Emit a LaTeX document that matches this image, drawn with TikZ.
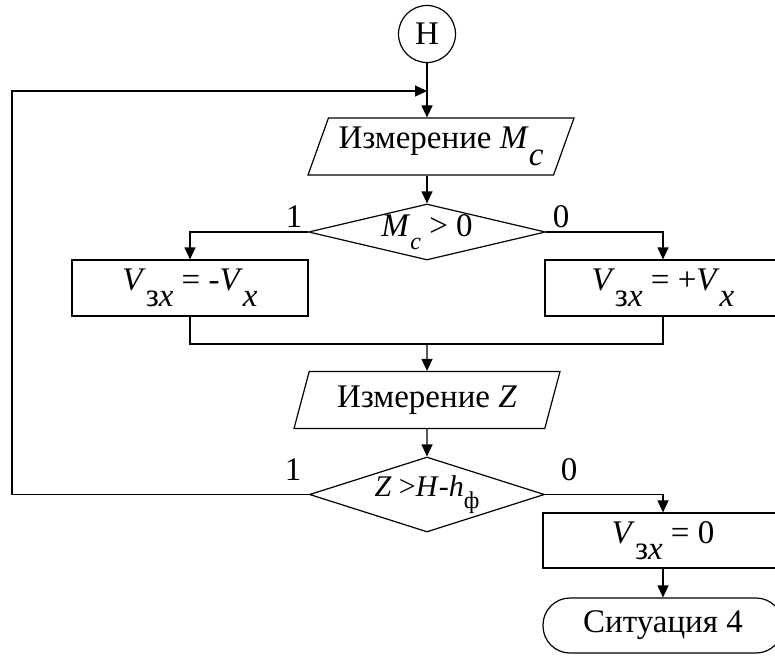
\documentclass[tikz,border=0pt]{standalone}
\usepackage{fontspec}
\setmainfont{Liberation Serif}
\usetikzlibrary{shapes.geometric,arrows.meta}

% lowered index: full size in the boxes, smaller in the conditions
\newcommand{\lowsub}[1]{\raisebox{-0.5em}{#1}}
\newcommand{\condsub}[1]{\raisebox{-0.4em}{\fontsize{24pt}{28pt}\selectfont #1}}

\begin{document}
\begin{tikzpicture}[x=1pt, y=-1pt, line width=1.2pt,
    every node/.style={font=\fontsize{33pt}{38pt}\selectfont},
    flow/.style={-{Triangle[length=12pt,width=11pt]}},
    startbox/.style={circle, draw, minimum size=57pt, inner sep=0pt},
    iobox/.style={trapezium, draw, trapezium left angle=62, trapezium right angle=118,
      trapezium stretches body, minimum width=266pt, minimum height=57pt, inner sep=0pt},
    actbox/.style={rectangle, draw, minimum width=236pt, minimum height=56pt, inner sep=0pt},
    decision/.style={diamond, draw, inner sep=0pt},
    stopbox/.style={rectangle, draw, rounded corners=27pt, minimum width=240pt,
      minimum height=55pt, inner sep=0pt}]

  \useasboundingbox (0,0) rectangle (775,655);

  % blocks
  \node[startbox] (start) at (427,34) {Н};
  \node[iobox] (inMc) at (441,146.5) {Измерение \textit{M}\lowsub{\textit{c}}};
  \node[decision, minimum width=237pt, minimum height=56pt,
    label=center:{\textit{M}\condsub{\textit{c}} > 0}] (decMc) at (427,232) {};
  \node[actbox] (actNeg) at (190,288) {\textit{V}\lowsub{з\textit{x}} = -\textit{V}\lowsub{\textit{x}}};
  \node[actbox] (actPos) at (663,288) {\textit{V}\lowsub{з\textit{x}} = +\textit{V}\lowsub{\textit{x}}};
  \node[iobox] (inZ) at (427,400) {Измерение \textit{Z}};
  \node[decision, minimum width=235pt, minimum height=75pt,
    label=center:{\fontsize{30pt}{34pt}\selectfont\textit{Z} >\textit{H}-\textit{h}\condsub{ф}}] (decZ) at (427,494.5) {};
  \node[actbox, minimum width=240pt, minimum height=55pt] (actZero) at (663,540.5) {\textit{V}\lowsub{з\textit{x}} = 0};
  \node[stopbox] (stop) at (663,625.5) {Ситуация 4};

  % branch marks
  \node (yesMc) at (294,217) {1};
  \node (noMc) at (561,217) {0};
  \node (yesZ) at (293,470) {1};
  \node (noZ) at (569,470) {0};

  \coordinate (loopTop) at (12,91);
  \coordinate (merge) at (427,344);

  % connections
  \draw[flow] (start.south) -- (start.south |- inMc.north);
  \draw[flow] (decZ.west) -| (loopTop) -- (start.south |- loopTop);
  \draw[flow] (decMc.north |- inMc.south) -- (decMc.north);
  \draw[flow] (decMc.west) -| (actNeg.north);
  \draw[flow] (decMc.east) -| (actPos.north);
  \draw (actNeg.south) |- (merge) -| (actPos.south);
  \draw[flow] (merge) -- (inZ.north);
  \draw[flow] (inZ.south) -- (decZ.north);
  \draw[flow] (decZ.east) -| (actZero.north);
  \draw[flow] (actZero.south) -- (stop.north);

\end{tikzpicture}
\end{document}
